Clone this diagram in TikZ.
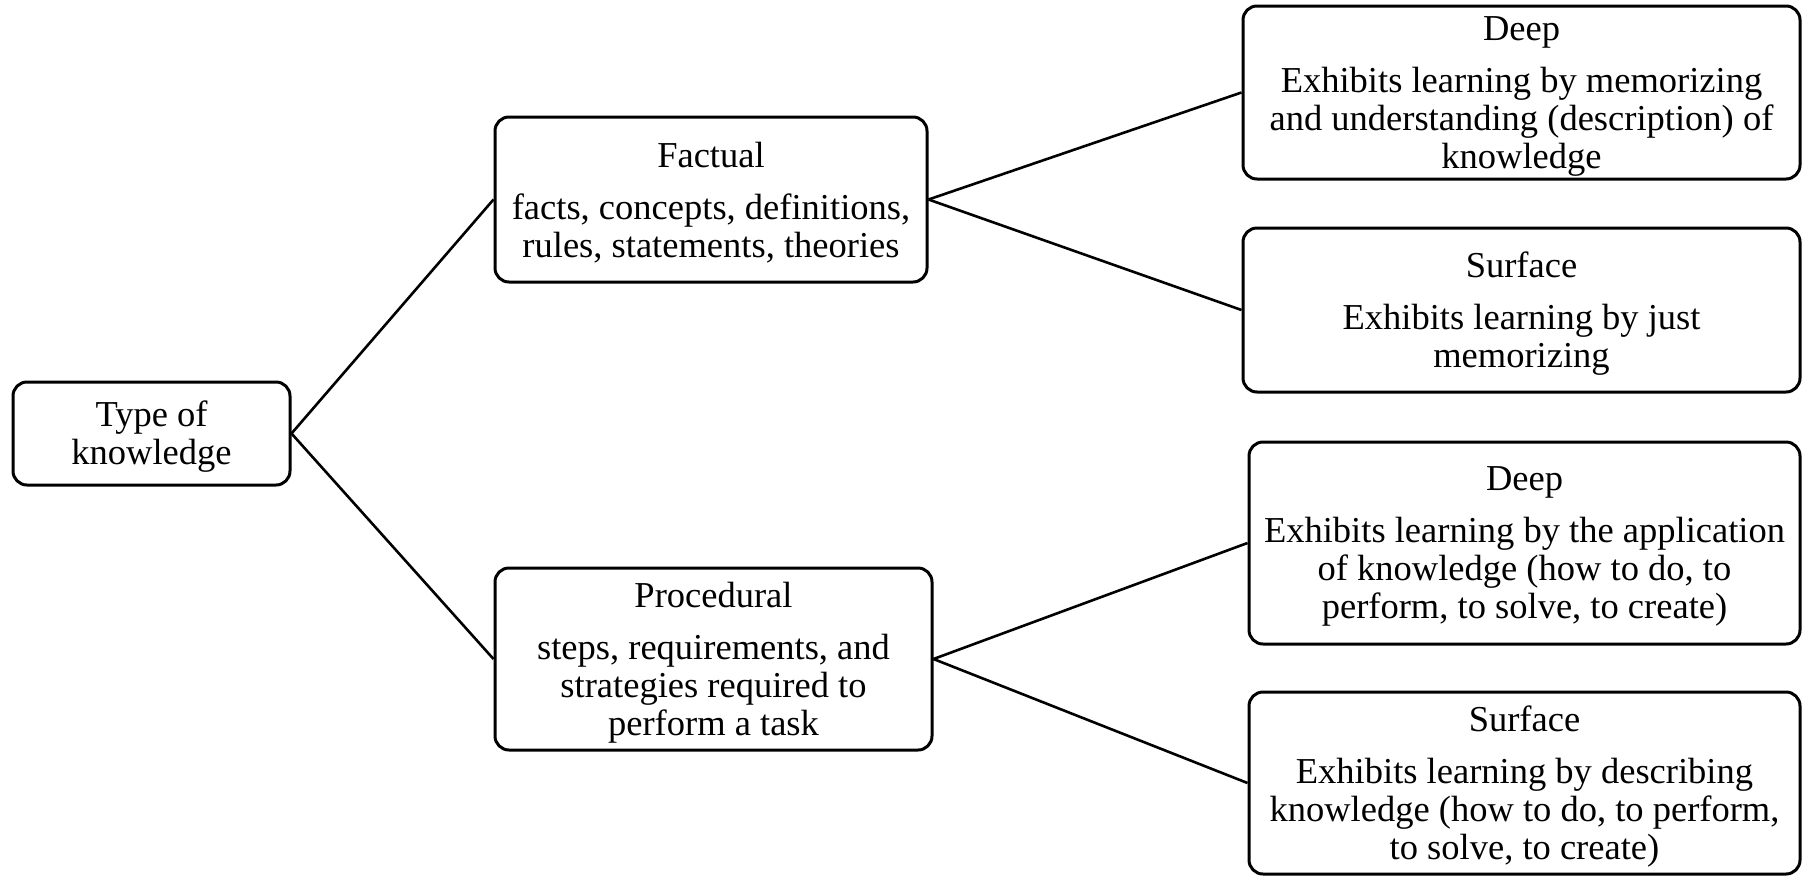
\documentclass[tikz,border=0pt]{standalone}
\usepackage{fontspec}
\newfontfamily\timesfont{Liberation Serif}
\begin{document}
\begin{tikzpicture}[x=1pt,y=-1pt,
  box/.style={draw, line width=3pt, rounded corners=14pt, inner sep=0pt},
  txt/.style={align=center, inner sep=0pt, yshift=-3.5pt,
    font=\timesfont\fontsize{36.5}{38}\selectfont},
  link/.style={line width=2.6pt}]
\useasboundingbox (0,0) rectangle (1803,876);
\node[box, minimum width=277pt, minimum height=103pt] (type) at (151.5,433.5) {};
\node[box, minimum width=432pt, minimum height=165pt] (fact) at (711,199.5) {};
\node[box, minimum width=437pt, minimum height=182pt] (proc) at (713.5,659) {};
\node[box, minimum width=557pt, minimum height=173pt] (deep1) at (1521.5,92.5) {};
\node[box, minimum width=557pt, minimum height=164pt] (surf1) at (1521.5,310) {};
\node[box, minimum width=551pt, minimum height=202pt] (deep2) at (1524.5,543) {};
\node[box, minimum width=551pt, minimum height=182pt] (surf2) at (1524.5,783) {};
\node[txt] (typet) at (type) {Type of\\knowledge};
\node[txt] (factt) at (fact) {Factual\\[14pt]facts, concepts, definitions,\\rules, statements, theories};
\node[txt] (proct) at (proc) {Procedural\\[14pt]steps, requirements, and\\strategies required to\\perform a task};
\node[txt] (deep1t) at (deep1) {Deep\\[14pt]Exhibits learning by memorizing\\and understanding (description) of\\knowledge};
\node[txt] (surf1t) at (surf1) {Surface\\[14pt]Exhibits learning by just\\memorizing};
\node[txt] (deep2t) at (deep2) {Deep\\[14pt]Exhibits learning by the application\\of knowledge (how to do, to\\perform, to solve, to create)};
\node[txt] (surf2t) at (surf2) {Surface\\[14pt]Exhibits learning by describing\\knowledge (how to do, to perform,\\to solve, to create)};
\draw[link] (type.east) -- (fact.west);
\draw[link] (type.east) -- (proc.west);
\draw[link] (fact.east) -- (deep1.west);
\draw[link] (fact.east) -- (surf1.west);
\draw[link] (proc.east) -- (deep2.west);
\draw[link] (proc.east) -- (surf2.west);
\end{tikzpicture}
\end{document}
